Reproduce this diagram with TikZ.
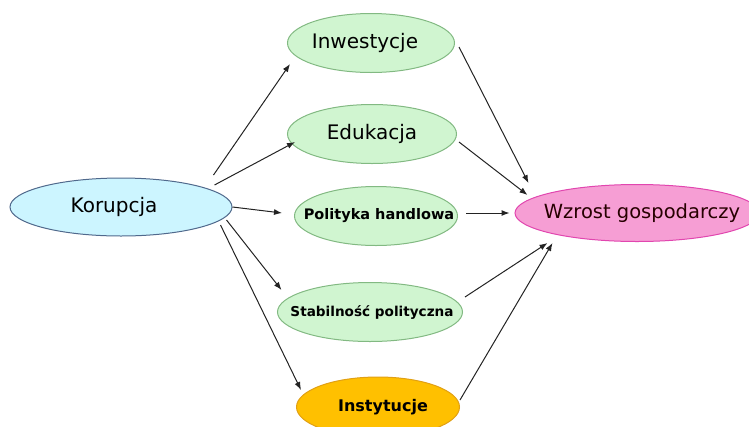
\documentclass[tikz,border=0pt]{standalone}
\usepackage{fontspec}
\setmainfont{DejaVu Sans}
\usepackage{tikz}
\usetikzlibrary{calc}
\usetikzlibrary{shapes.geometric}
\usetikzlibrary{arrows.meta}

\definecolor{korfill}{RGB}{204,245,255}
\definecolor{korline}{RGB}{80,105,140}
\definecolor{factfill}{RGB}{208,245,208}
\definecolor{factline}{RGB}{130,185,130}
\definecolor{insfill}{RGB}{255,192,0}
\definecolor{insline}{RGB}{225,160,20}
\definecolor{wzrfill}{RGB}{246,158,212}
\definecolor{wzrline}{RGB}{225,70,175}
\definecolor{arrgray}{RGB}{35,35,35}

\newcommand{\largetxt}{\fontsize{20}{24}\selectfont}

\begin{document}
\begin{tikzpicture}[x=1pt, y=-1pt,
    oval/.style={ellipse, draw, line width=1pt, inner sep=0pt},
    factor/.style={oval, fill=factfill, draw=factline, minimum height=59pt},
    arr/.style={-{Latex[length=8pt,width=6pt]}, line width=1pt, draw=arrgray}]
    \useasboundingbox (0,0) rectangle (749,426);

    % Cause
    \node[oval, fill=korfill, draw=korline, minimum width=222pt, minimum height=58pt,
        label={[xshift=-7pt, font=\largetxt]center:Korupcja}] (kor) at (121,207) {};

    % Channels
    \node[factor, minimum width=167pt,
        label={[xshift=-6pt, font=\largetxt]center:Inwestycje}] (inw) at (371,43) {};
    \node[factor, minimum width=169pt,
        label={[font=\largetxt]center:Edukacja}] (edu) at (372,134) {};
    \node[factor, minimum width=163pt,
        label={[xshift=3pt, font=\fontsize{14.5}{17}\selectfont\bfseries]center:Polityka handlowa}] (pol) at (376,216) {};
    \node[factor, minimum width=185pt,
        label={[xshift=2pt, font=\fontsize{13.6}{16}\selectfont\bfseries]center:Stabilność polityczna}] (sta) at (370,312) {};
    \node[oval, fill=insfill, draw=insline, minimum width=163pt, minimum height=60pt,
        label={[xshift=5pt, font=\fontsize{16}{19}\selectfont\bfseries]center:Instytucje}] (ins) at (378,407) {};

    % Effect
    \node[oval, fill=wzrfill, draw=wzrline, minimum width=244pt, minimum height=57pt,
        label={[xshift=5pt, font=\fontsize{19.5}{23}\selectfont, text=black!85!red]center:Wzrost gospodarczy}] (wzr) at (637,213) {};

    % Arrows from Korupcja
    \draw[arr] ($(kor.east)+(-19,-32)$) -- ($(inw.west)+(3,21)$);
    \draw[arr] ($(kor.east)+(-18,-22)$) -- ($(edu.west)+(8,8)$);
    \draw[arr] (kor.east) -- ($(pol.west)+(-12,-3)$);
    \draw[arr] ($(kor.east)+(-6,13)$) -- ($(sta.west)+(4.5,-22)$);
    \draw[arr] ($(kor.east)+(-12,18)$) -- ($(ins.west)+(5,-17)$);

    % Arrows to Wzrost
    \draw[arr] ($(inw.east)+(4,4)$) -- ($(wzr.west)+(14,-30)$);
    \draw[arr] ($(edu.east)+(2,8)$) -- ($(wzr.west)+(13,-18)$);
    \draw[arr] ($(pol.east)+(8,-3)$) -- ($(wzr.west)+(-5,0)$);
    \draw[arr] ($(sta.east)+(2,-15)$) -- ($(wzr.west)+(33,30)$);
    \draw[arr] ($(ins.east)+(0,-7)$) -- ($(wzr.west)+(38,30)$);
\end{tikzpicture}
\end{document}
